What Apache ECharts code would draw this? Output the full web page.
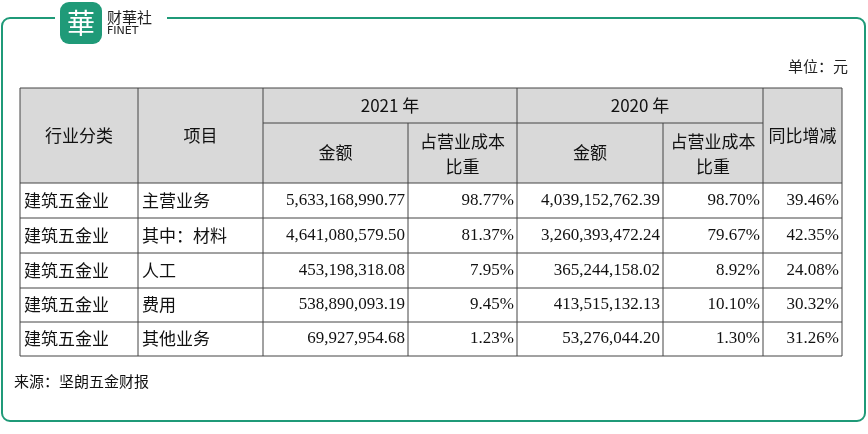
<!DOCTYPE html>
<html><head><meta charset="utf-8">
<script src="https://cdn.jsdelivr.net/npm/echarts@6/dist/echarts.min.js"></script>
<style>html,body{margin:0;padding:0;background:#fff}#c{width:868px;height:434px}</style>
</head><body><div id="c"></div>
<script>
const industry = ['建筑五金业','建筑五金业','建筑五金业','建筑五金业','建筑五金业'];
const items = ['主营业务','其中：材料','人工','费用','其他业务'];
const amount2021 = ['5,633,168,990.77','4,641,080,579.50','453,198,318.08','538,890,093.19','69,927,954.68'];
const share2021 = ['98.77%','81.37%','7.95%','9.45%','1.23%'];
const amount2020 = ['4,039,152,762.39','3,260,393,472.24','365,244,158.02','413,515,132.13','53,276,044.20'];
const share2020 = ['98.70%','79.67%','8.92%','10.10%','1.30%'];
const yoy = ['39.46%','42.35%','24.08%','30.32%','31.26%'];

const cols = [20,138,263,408,517,663,763,842];
const rowY = [88,123,183,218,253,288,322,356];
const green = '#1f9a78';
const F = '"Noto Sans CJK SC", "Liberation Serif", serif';
const g = [];
function txt(x,y,s,align,size,color,font){g.push({type:'text',x:x,y:y,style:{text:s,textAlign:align||'center',textVerticalAlign:'middle',fontSize:size||17,fill:color||'#111',fontFamily:font||F}});}
function line(x1,y1,x2,y2,c,w){g.push({type:'line',shape:{x1,y1,x2,y2},style:{stroke:c||'#444',lineWidth:w||1}});}
g.push({type:'rect',shape:{x:2,y:18,width:863,height:403,r:8},style:{fill:'none',stroke:green,lineWidth:2}});
g.push({type:'rect',shape:{x:55,y:2,width:112,height:34},style:{fill:'#fff'}});
g.push({type:'rect',shape:{x:60,y:2,width:42,height:42,r:9},style:{fill:green}});
txt(81,23,'華','center',28,'#fff');
txt(107,17,'财華社','left',15,'#222','"Noto Sans CJK SC"');
txt(107,31,'FINET','left',11,'#222','"DejaVu Sans"');
txt(848,66,'单位：元','right',15,'#222');
txt(14,381,'来源：坚朗五金财报','left',15,'#111');
g.push({type:'rect',shape:{x:cols[0],y:rowY[0],width:cols[7]-cols[0],height:rowY[2]-rowY[0]},style:{fill:'#d9d9d9'}});
line(cols[0],rowY[0],cols[7],rowY[0]);
line(cols[2],rowY[1],cols[6],rowY[1]);
for(let i=2;i<rowY.length;i++) line(cols[0],rowY[i],cols[7],rowY[i]);
for(let j=0;j<cols.length;j++){
  const top = (j===3||j===5)?rowY[1]:rowY[0];
  line(cols[j],top,cols[j],rowY[7]);
}
const cx=j=>(cols[j]+cols[j+1])/2;
txt(cx(0),136,'行业分类'); txt(cx(1),136,'项目');
txt((cols[2]+cols[4])/2,106,'2021 年'); txt((cols[4]+cols[6])/2,106,'2020 年');
txt(cx(2),153,'金额'); txt(cx(4),153,'金额');
txt(cx(3),142,'占营业成本'); txt(cx(3),167,'比重');
txt(cx(5),142,'占营业成本'); txt(cx(5),167,'比重');
txt(cx(6),136,'同比增减');
const NF='"Liberation Serif", serif';
for(let i=0;i<items.length;i++){
  const y=(rowY[i+2]+rowY[i+3])/2;
  txt(cols[0]+4,y,industry[i],'left');
  txt(cols[1]+4,y,items[i],'left');
  txt(cols[3]-3,y,amount2021[i],'right',17,'#111',NF);
  txt(cols[4]-3,y,share2021[i],'right',17,'#111',NF);
  txt(cols[5]-3,y,amount2020[i],'right',17,'#111',NF);
  txt(cols[6]-3,y,share2020[i],'right',17,'#111',NF);
  txt(cols[7]-3,y,yoy[i],'right',17,'#111',NF);
}
const chart=echarts.init(document.getElementById('c'));
chart.setOption({animation:false,graphic:{elements:g}});
</script></body></html>
